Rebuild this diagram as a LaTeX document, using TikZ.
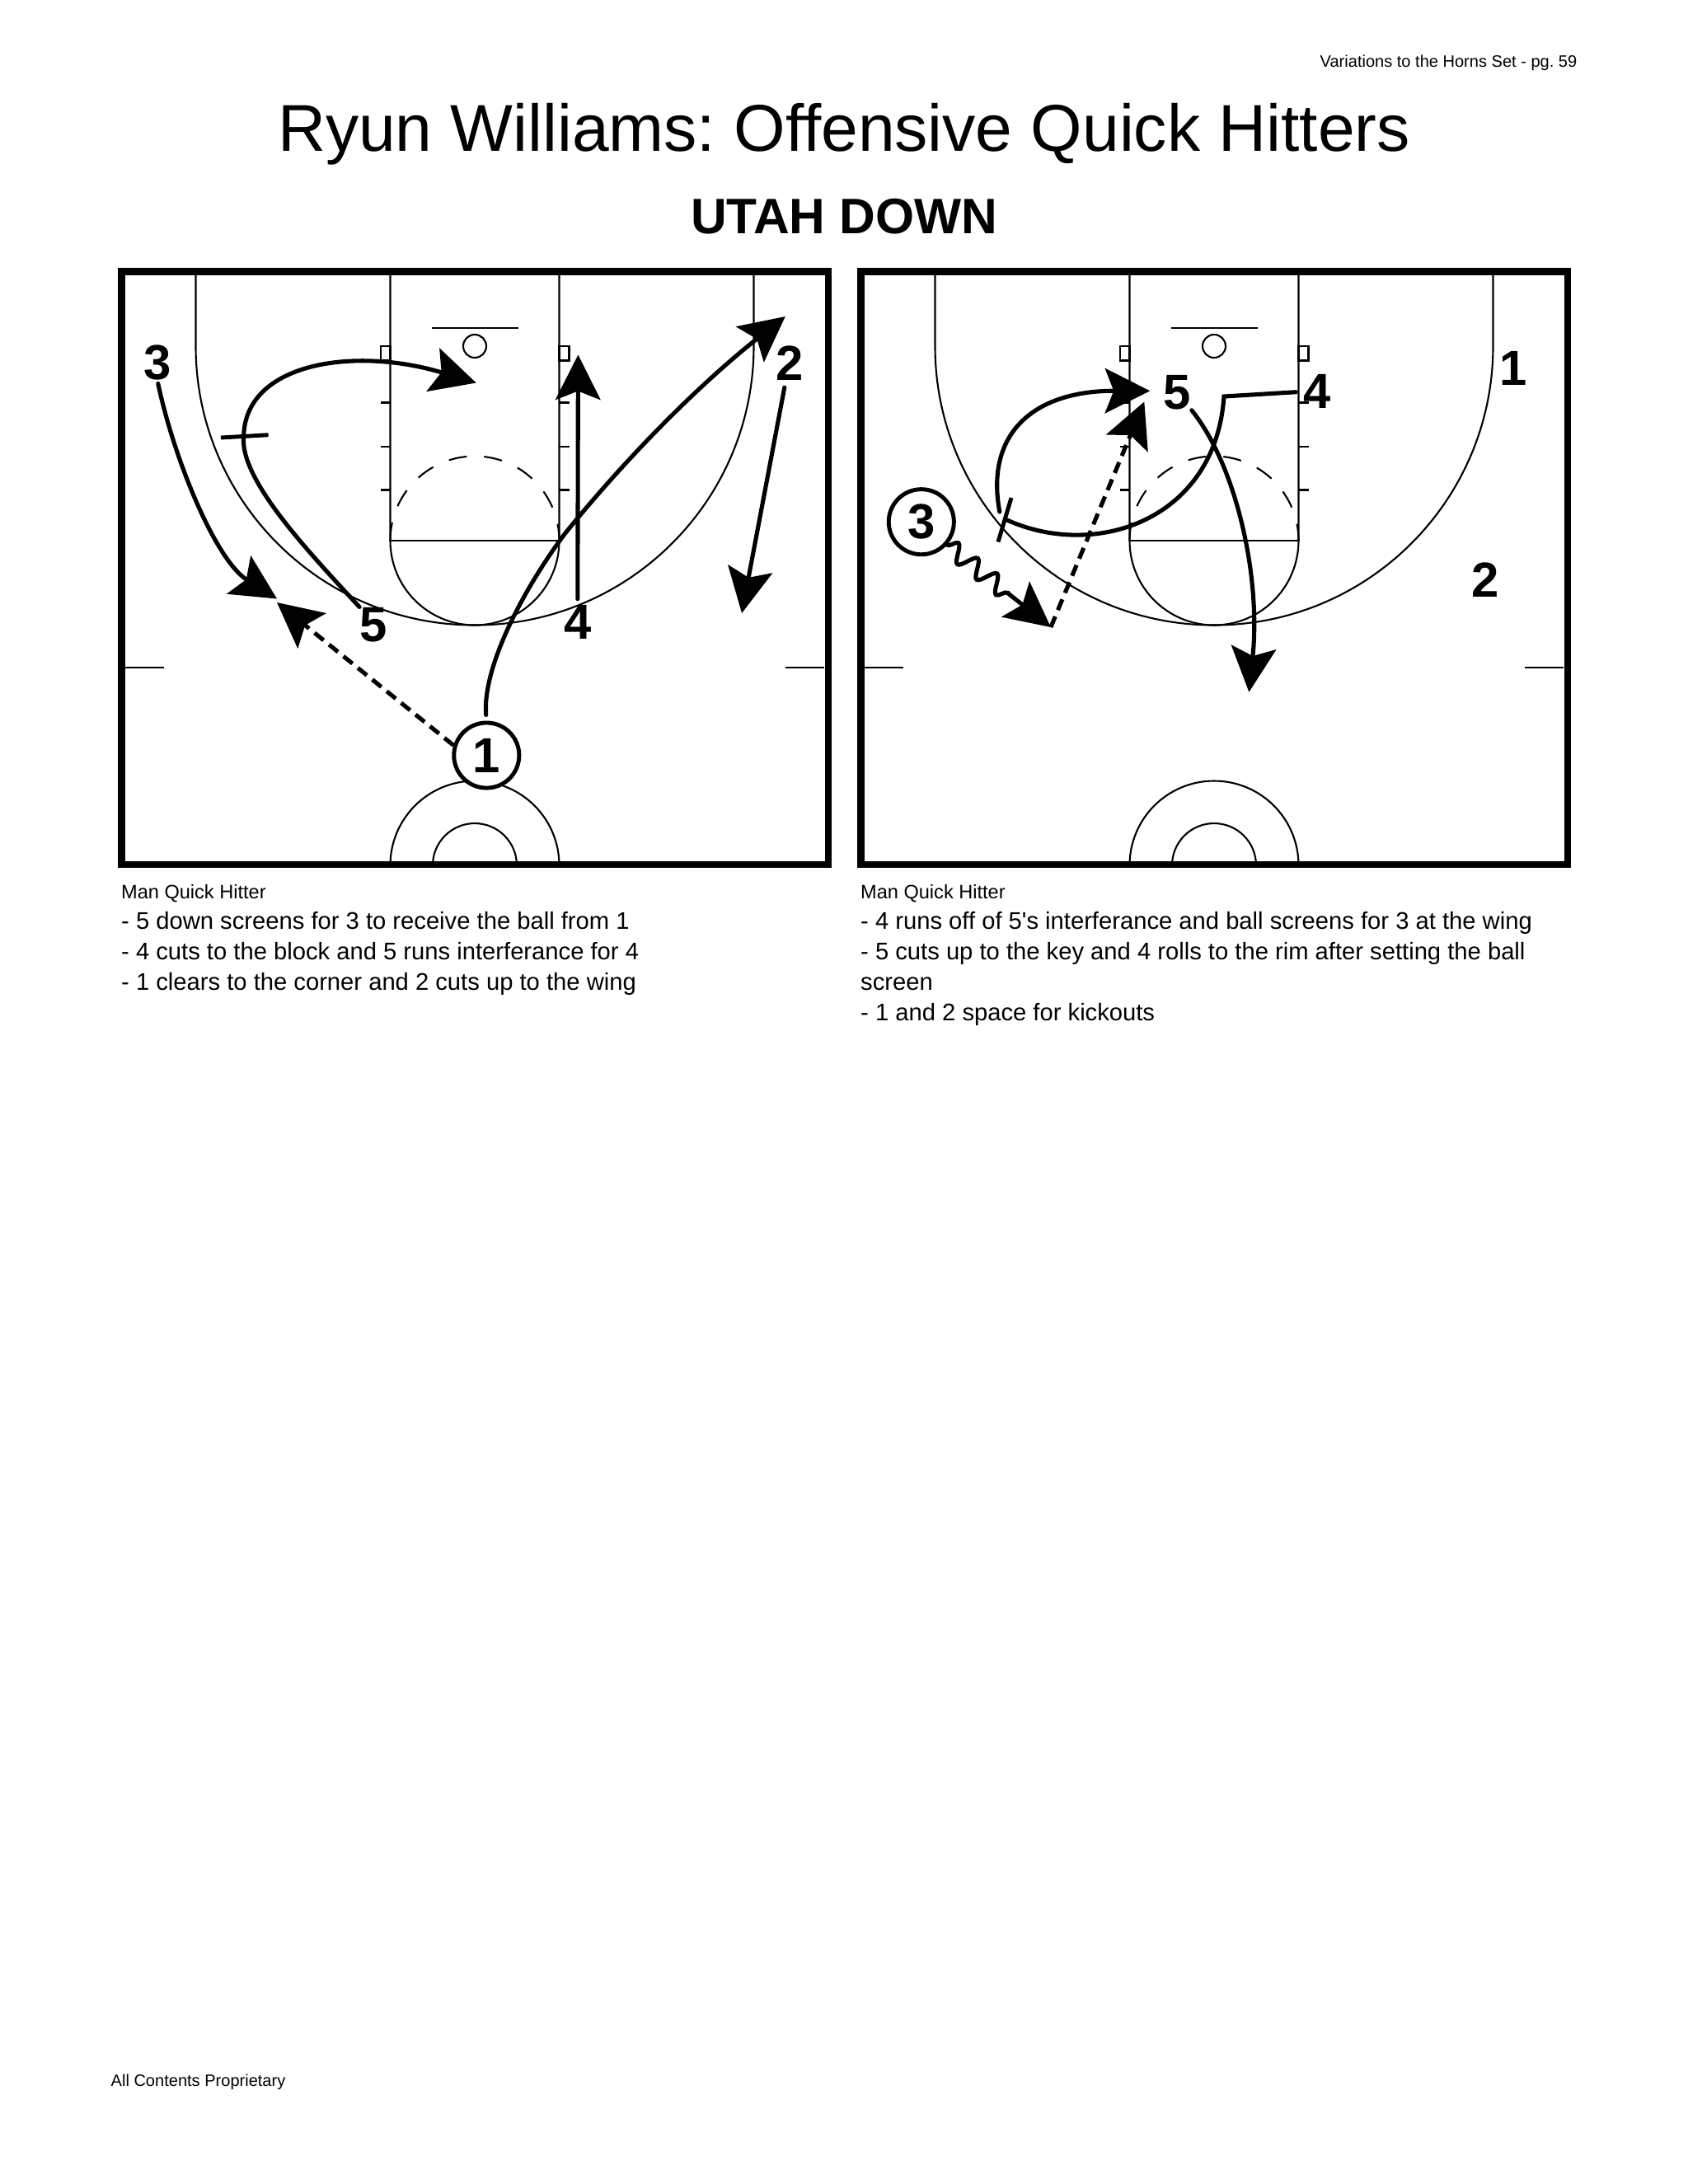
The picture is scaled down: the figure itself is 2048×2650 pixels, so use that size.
\documentclass[tikz,border=0pt]{standalone}
\usepackage{fontspec}
\setmainfont{Liberation Sans}[Ligatures=NoCommon]
\usepackage{tikz}
\usetikzlibrary{arrows.meta}
\usetikzlibrary{decorations.pathmorphing}
\usetikzlibrary{shapes.geometric}

\begin{document}
\frenchspacing
\begin{tikzpicture}[x=0.01cm,y=-0.01cm]
        \tikzstyle{thinline}=[line width=0.6pt]
        \tikzstyle{run}=[line width=1.45pt,line cap=round,
            -{Stealth[length=15.5pt,width=15.5pt,inset=3pt]}]
        \tikzstyle{pass}=[run,dash pattern=on 4pt off 2.4pt,line cap=butt]
        \tikzstyle{screenbar}=[line width=1.4pt]
        \tikzstyle{player}=[font=\fontsize{17}{17}\selectfont\bfseries,
            inner sep=0pt]
        \tikzstyle{ballplayer}=[player,circle,draw,fill=white,
            line width=1.4pt,minimum size=22.5pt]
        \tikzstyle{small}=[font=\fontsize{5.7}{7}\selectfont,inner sep=0pt]
        \tikzstyle{caption}=[font=\fontsize{6.7}{8}\selectfont,inner sep=0pt,
            anchor=base west]
        \tikzstyle{note}=[font=\fontsize{8.3}{10}\selectfont,inner sep=0pt,
            anchor=base west]

        \useasboundingbox (0,0) rectangle (2048,2650);

        \node[small,anchor=base east] (pagenote) at (1914,81)
            {Variations to the Horns Set - pg. 59};
        \node[font=\fontsize{22.85}{26}\selectfont,inner sep=0pt,anchor=base]
            (title) at (1024,183) {Ryun Williams: Of{}fensive Quick Hitters};
        \node[font=\fontsize{17.2}{20}\selectfont\bfseries,inner sep=0pt,
            anchor=base] (subtitle) at (1024,283) {UTAH DOWN};

        % both courts
        \foreach \cx in {0, 897}
        {
            \begin{scope}[xshift=\cx*0.01cm]
                \draw[thinline] (237.5,330) -- (237.5,420)
                    arc[start angle=180, end angle=0, radius=338.5]
                    -- (914.5,330);
                \draw[thinline] (473.5,330) -- (473.5,656)
                    arc[start angle=180, end angle=0, radius=102.5]
                    -- (678.5,330);
                \draw[thinline] (473.5,656) -- (678.5,656);
                \draw[thinline,dash pattern=on 6.3pt off 5.95pt]
                    (473.5,656) arc[start angle=180, end angle=360, radius=102.5];
                \draw[thinline] (523.5,398) -- (628.5,398);
                \draw[thinline] (576,420) circle[radius=14];
                \draw[thinline] (462,420) rectangle (473.5,437.5);
                \draw[thinline] (678.5,420) rectangle (690.5,437.5);
                \foreach \y in {488.5, 542, 594.5}
                {
                    \draw[thinline] (462,\y) -- (473.5,\y);
                    \draw[thinline] (678.5,\y) -- (690.5,\y);
                }
                \draw[thinline] (152,810) -- (199,810);
                \draw[thinline] (953,810) -- (1000,810);
                \draw[thinline] (473.5,1050)
                    arc[start angle=180, end angle=360, radius=102.5];
                \draw[thinline] (525,1050)
                    arc[start angle=180, end angle=360, radius=51];
                \draw[line width=2.4pt] (147.3,329.5) rectangle (1005,1049);
            \end{scope}
        }

        % left court
        \node[player] (p3) at (191,440) {3};
        \node[player] (p2) at (958.6,441) {2};
        \node[player] (p5) at (453.4,758) {5};
        \node[player] (p4) at (700.8,755) {4};
        \node[ballplayer] (p1) at (590.3,916.5) {1};

        \coordinate (cut3) at (336,726.5);
        \coordinate (pass1) at (336,731);
        \coordinate (bend5) at (295.7,528.7);
        \coordinate (cut5) at (577.7,464.5);
        \coordinate (cut4) at (701.4,430.5);
        \coordinate (cut2) at (900,744);
        \coordinate (bend1) at (685,648);
        \coordinate (cut1) at (952.8,384);
        \coordinate (bar5a) at (268,531);
        \coordinate (bar5b) at (325.6,527.7);

        \draw[run,shorten <=1pt] (p3.south) .. controls (212,560) and (262,680) .. (cut3);
        \draw[pass] (p1.163) -- (pass1);
        \draw[run] (p5.north west) .. controls (370,665) and (290,580) .. (bend5)
            .. controls (298,440) and (430,420) .. (cut5);
        \draw[screenbar] (bar5a) -- (bar5b);
        \draw[run,shorten <=2pt] (p4.north) -- (cut4);
        \draw[run,shorten <=2.2pt] (p2.256) -- (cut2);
        \draw[run,shorten <=2pt] (p1.north) .. controls (585,810) and (635,715)
            .. (bend1) .. controls (760,555) and (850,465) .. (cut1);

        % right court
        \node[ballplayer] (q3) at (1117.8,633.2) {3};
        \node[player] (q1) at (1836,447) {1};
        \node[player] (q2) at (1802.5,703.7) {2};
        \node[player] (q5) at (1428.5,476.2) {5};
        \node[player] (q4) at (1598.3,475.2) {4};

        \coordinate (corner4) at (1485,481);
        \coordinate (end4) at (1221.4,630.8);
        \coordinate (bar4a) at (1227,604);
        \coordinate (bar4b) at (1211,657.5);
        \coordinate (start5) at (1212.8,621);
        \coordinate (cut5r) at (1395.2,474.3);
        \coordinate (roll4) at (1515.4,839.7);
        \coordinate (drive3) at (1274.9,761);
        \coordinate (pass3) at (1388.3,487.4);

        \draw[line width=1.45pt,line cap=round,shorten <=2.5pt] (q4.west) -- (corner4)
            .. controls (1475,630) and (1330,680) .. (end4);
        \draw[screenbar] (bar4a) -- (bar4b);
        \draw[run] (start5) .. controls (1195,525) and (1255,474) .. (cut5r);
        \draw[run] (q5.south east) .. controls (1500,565) and (1530,700) .. (roll4);
        \draw[run,decorate,decoration={snake,amplitude=3pt,segment length=8.5pt,
            post length=15pt}] (q3.-42) -- (drive3);
        \draw[pass] (drive3) -- (pass3);

        % notes
        \node[caption] (cap1) at (146.5,1090) {Man Quick Hitter};
        \node[note] (n11) at (146.5,1127) {- 5 down screens for 3 to receive the ball from 1};
        \node[note] (n12) at (146.5,1164) {- 4 cuts to the block and 5 runs interferance for 4};
        \node[note] (n13) at (146.5,1201) {- 1 clears to the corner and 2 cuts up to the wing};
        \node[caption] (cap2) at (1043.5,1090) {Man Quick Hitter};
        \node[note] (n21) at (1043.5,1127) {- 4 runs of{}f of 5\textquotesingle s interferance and ball screens for 3 at the wing};
        \node[note] (n22) at (1043.5,1164) {- 5 cuts up to the key and 4 rolls to the rim after setting the ball};
        \node[note] (n23) at (1043.5,1201) {screen};
        \node[note] (n24) at (1043.5,1238) {- 1 and 2 space for kickouts};

        \node[small,anchor=base west] (footer) at (134,2531) {All Contents Proprietary};
\end{tikzpicture}
\end{document}
